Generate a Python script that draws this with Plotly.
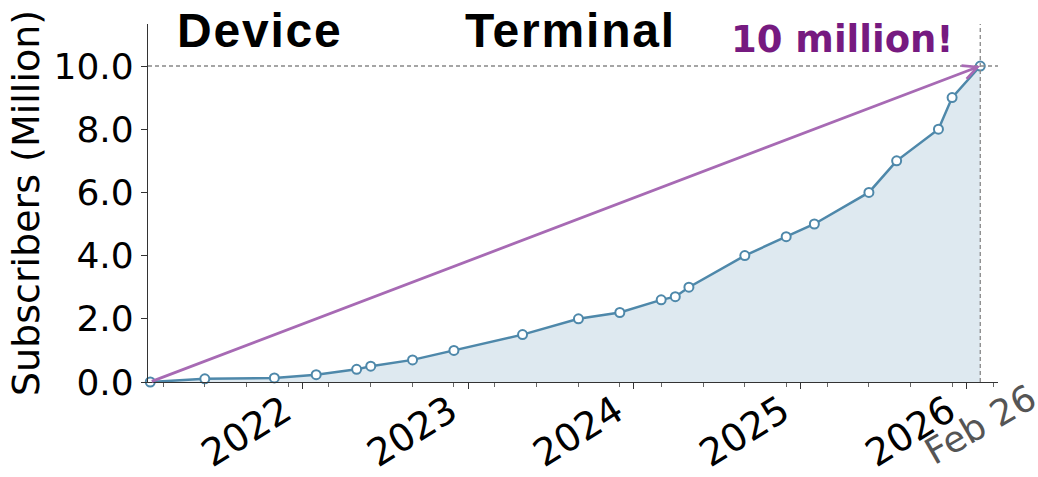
import plotly.graph_objects as go

# ---- data ----
dates = ["2021-02-01", "2021-06-01", "2021-11-01", "2022-02-01", "2022-05-01",
         "2022-06-01", "2022-09-01", "2022-12-01", "2023-05-01", "2023-09-01",
         "2023-12-01", "2024-03-01", "2024-04-01", "2024-05-01", "2024-09-01",
         "2024-12-01", "2025-02-01", "2025-06-01", "2025-08-01", "2025-11-01",
         "2025-12-01", "2026-02-01"]
subscribers = [0, 0.1, 0.13, 0.23, 0.4, 0.5, 0.7, 1.0, 1.5, 2.0, 2.2, 2.6, 2.7,
               3.0, 4.0, 4.6, 5.0, 6.0, 7.0, 8.0, 9.0, 10.0]

year_ticks = ["2022-01-01", "2023-01-01", "2024-01-01", "2025-01-01", "2026-01-01"]
year_labels = ["2022", "2023", "2024", "2025", "2026"]
y_ticks = [0, 2, 4, 6, 8, 10]
y_labels = [f"{v:.1f}" for v in y_ticks]

start_date = dates[0]
goal_date = dates[-1]
goal_value = subscribers[-1]
goal_label = "Feb 26"
title_left = "Device"
title_right = "Terminal"
goal_text = "10 million!"

LINE = "#4e88aa"
FILL = "#dee9f0"
ARROW = "#a76ab4"
GOAL = "#761a80"
AX = "#333333"

fig = go.Figure()
fig.add_trace(go.Scatter(
    x=dates, y=subscribers, mode="lines+markers",
    line=dict(color=LINE, width=2.5),
    marker=dict(size=9, color="white", line=dict(color=LINE, width=2)),
    fill="tozeroy", fillcolor=FILL, cliponaxis=False, showlegend=False,
))

fig.add_shape(type="line", xref="paper", x0=0, x1=1, yref="y", y0=goal_value, y1=goal_value,
              line=dict(color="#888888", width=1.3, dash="4px,3px"), layer="above")
fig.add_shape(type="line", xref="x", x0=goal_date, x1=goal_date, yref="paper", y0=0, y1=1,
              line=dict(color="#888888", width=1.3, dash="4px,3px"), layer="above")

fig.add_annotation(x=goal_date, y=goal_value, xref="x", yref="y",
                   ax=start_date, ay=0, axref="x", ayref="y",
                   text="", showarrow=True, arrowhead=5, arrowsize=1,
                   arrowwidth=2.8, arrowcolor=ARROW, standoff=0)

fig.add_annotation(text=f"<b>{goal_text}</b>", xref="paper", yref="paper",
                   x=(842 - 148) / 850, y=(382 - 39) / 358, showarrow=False,
                   xanchor="center", yanchor="middle",
                   font=dict(family="DejaVu Sans", size=37, color=GOAL))

for txt, cx in [(title_left, 260), (title_right, 570)]:
    fig.add_annotation(text=f"<b><span style='letter-spacing:1.8px'>{txt}</span></b>",
                       xref="paper", yref="paper",
                       x=(cx - 148) / 850, y=(382 - 31) / 358, showarrow=False,
                       xanchor="center", yanchor="middle",
                       font=dict(family="Liberation Sans", size=48, color="black"))

fig.add_annotation(text=goal_label, xref="x", yref="paper", x=goal_date, y=0,
                   showarrow=False, xanchor="center", yanchor="top", textangle=-30,
                   yshift=8,
                   font=dict(family="DejaVu Sans", size=36, color="#555555"))

fig.update_layout(
    width=1038, height=477,
    margin=dict(l=148, r=40, t=24, b=95),
    paper_bgcolor="white", plot_bgcolor="white",
    font=dict(family="DejaVu Sans", color="black"),
    xaxis=dict(
        type="date", range=["2021-01-27", "2026-03-12"], automargin=False,
        tickmode="array", tickvals=year_ticks, ticktext=year_labels,
        tickangle=-32, tickfont=dict(size=38, color="black"),
        ticklabelshift=-18, ticklabelstandoff=-15,
        ticks="outside", ticklen=6, tickwidth=1.2, tickcolor=AX,
        showline=True, linecolor=AX, linewidth=1.2,
        showgrid=False, zeroline=False,
        minor=dict(ticks="outside", ticklen=3.5, tickwidth=1, tickcolor="#666666",
                   tick0="2021-03-01", dtick="M3", showgrid=False),
    ),
    yaxis=dict(
        range=[0, 11.33], automargin=False,
        tickmode="array", tickvals=y_ticks, ticktext=y_labels,
        tickfont=dict(size=36, color="black"),
        ticks="outside", ticklen=6, tickwidth=1.2, tickcolor=AX,
        showline=True, linecolor=AX, linewidth=1.2,
        showgrid=False, zeroline=False,
        title=dict(text="Subscribers (Million)", font=dict(size=38, color="black"), standoff=2),
    ),
)

fig.write_html("out.html", config={"displayModeBar": False},
               post_script="document.body.style.margin='0';document.body.style.overflow='hidden';")
